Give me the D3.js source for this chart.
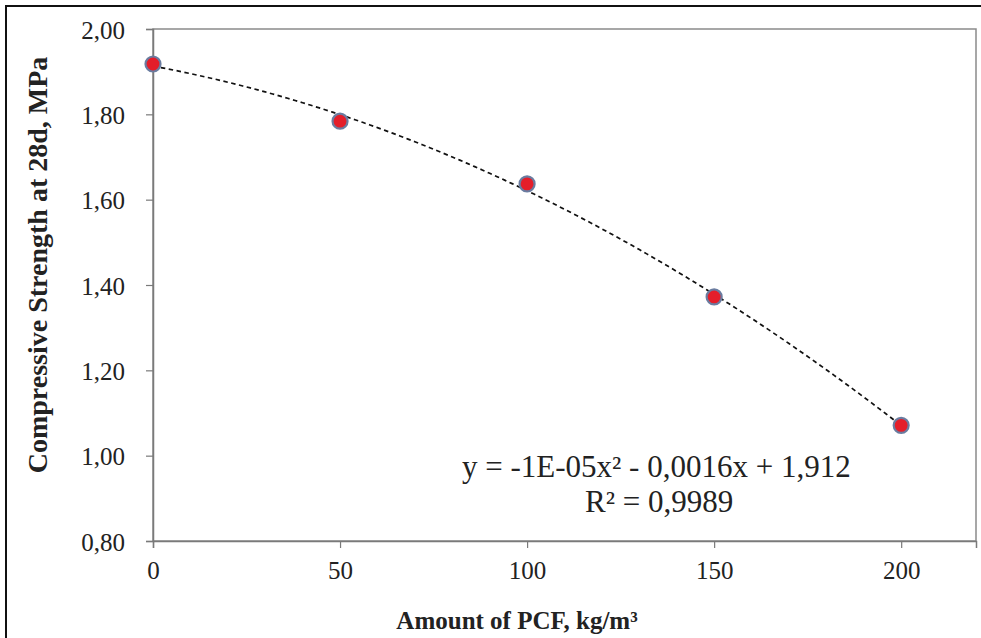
<!DOCTYPE html>
<html>
<head>
<meta charset="utf-8">
<script src="https://cdn.jsdelivr.net/npm/d3@7"></script>
<style>
  html, body { margin: 0; padding: 0; background: #fff; overflow: hidden; }
  svg { display: block; font-family: "Liberation Serif", "Times New Roman", serif; }
</style>
</head>
<body>
<div id="chart"></div>
<script>
// Data
const pcfAmount = [0, 50, 100, 150, 200];
const strength = [1.918, 1.784, 1.637, 1.372, 1.071];
const xTicks = [0, 50, 100, 150, 200];
const yTicks = [0.8, 1.0, 1.2, 1.4, 1.6, 1.8, 2.0];

const width = 981;
const height = 638;
const margin = { top: 29, right: 5, bottom: 97, left: 153 };
const innerWidth = width - margin.left - margin.right;
const innerHeight = height - margin.top - margin.bottom;

const svg = d3
  .select("#chart")
  .append("svg")
  .attr("width", width)
  .attr("height", height);

// Bingkai luar (terpotong di kanan & bawah seperti gambar asli)
svg
  .append("path")
  .attr("d", `M6,${height} V6 H${width}`)
  .attr("fill", "none")
  .attr("stroke", "#111")
  .attr("stroke-width", 2);

const chart = svg
  .append("g")
  .attr("transform", `translate(${margin.left}, ${margin.top})`);

// Scales
const x = d3.scaleLinear().domain([0, 220]).range([0, innerWidth]);
const y = d3.scaleLinear().domain([0.8, 2.0]).range([innerHeight, 0]);

// Plot border
chart
  .append("rect")
  .attr("width", innerWidth)
  .attr("height", innerHeight)
  .attr("fill", "none")
  .attr("stroke", "#8a8a8a")
  .attr("stroke-width", 1.5);

// Axis
const xAxis = chart
  .append("g")
  .attr("transform", `translate(0, ${innerHeight})`)
  .call(d3.axisBottom(x).tickValues(xTicks).tickSize(7).tickPadding(13).tickFormat(d3.format("d")));

const yAxis = chart
  .append("g")
  .call(
    d3
      .axisLeft(y)
      .tickValues(yTicks)
      .tickSize(7)
      .tickPadding(21)
      .tickFormat((d) => d.toFixed(2).replace(".", ","))
  );

[xAxis, yAxis].forEach((ax) => {
  ax.attr("font-family", "Liberation Serif, serif").attr("font-size", 25);
  ax.select(".domain").attr("stroke", "#7a7a7a").attr("stroke-width", 1.5);
  ax.selectAll(".tick line").attr("stroke", "#7a7a7a").attr("stroke-width", 1.2);
  ax.selectAll("text").attr("fill", "#222");
});
yAxis.selectAll("text").attr("dy", "0.36em");

// Trendline polinomial orde 2 (least squares dari data)
function polyFit2(xs, ys) {
  const n = xs.length;
  let s = [0, 0, 0, 0, 0];
  let t = [0, 0, 0];
  for (let i = 0; i < n; i++) {
    for (let k = 0; k < 5; k++) s[k] += Math.pow(xs[i], k);
    for (let k = 0; k < 3; k++) t[k] += ys[i] * Math.pow(xs[i], k);
  }
  const A = [
    [s[0], s[1], s[2], t[0]],
    [s[1], s[2], s[3], t[1]],
    [s[2], s[3], s[4], t[2]],
  ];
  for (let i = 0; i < 3; i++) {
    for (let j = i + 1; j < 3; j++) {
      const f = A[j][i] / A[i][i];
      for (let k = i; k < 4; k++) A[j][k] -= f * A[i][k];
    }
  }
  const c = [0, 0, 0];
  for (let i = 2; i >= 0; i--) {
    let v = A[i][3];
    for (let k = i + 1; k < 3; k++) v -= A[i][k] * c[k];
    c[i] = v / A[i][i];
  }
  return c;
}

const coef = polyFit2(pcfAmount, strength);
const trend = d3.range(0, 201, 2).map((v) => [v, coef[0] + coef[1] * v + coef[2] * v * v]);

chart
  .append("path")
  .datum(trend)
  .attr("fill", "none")
  .attr("stroke", "#111")
  .attr("stroke-width", 1.7)
  .attr("stroke-dasharray", "4.5,3.5")
  .attr(
    "d",
    d3
      .line()
      .x((d) => x(d[0]))
      .y((d) => y(d[1]))
  );

// Titik data
chart
  .selectAll("circle.pt")
  .data(pcfAmount)
  .enter()
  .append("circle")
  .attr("class", "pt")
  .attr("cx", (d) => x(d))
  .attr("cy", (d, i) => y(strength[i]))
  .attr("r", 7.5)
  .attr("fill", "#e41e2a")
  .attr("stroke", "#6a7ca0")
  .attr("stroke-width", 2.2);

// Persamaan
chart
  .append("text")
  .attr("x", 462 - margin.left)
  .attr("y", 477 - margin.top)
  .attr("font-size", 31)
  .attr("fill", "#222")
  .text("y = -1E-05x² - 0,0016x + 1,912");

chart
  .append("text")
  .attr("x", 585 - margin.left)
  .attr("y", 512 - margin.top)
  .attr("font-size", 31)
  .attr("fill", "#222")
  .text("R² = 0,9989");

// Judul axis
svg
  .append("text")
  .attr("x", 517)
  .attr("y", 629)
  .attr("text-anchor", "middle")
  .attr("font-size", 25)
  .attr("font-weight", "bold")
  .attr("fill", "#222")
  .text("Amount of PCF, kg/m³");

svg
  .append("text")
  .attr("transform", "rotate(-90)")
  .attr("x", -265)
  .attr("y", 47)
  .attr("text-anchor", "middle")
  .attr("font-size", 28)
  .attr("font-weight", "bold")
  .attr("fill", "#222")
  .text("Compressive Strength at 28d, MPa");
</script>
</body>
</html>
